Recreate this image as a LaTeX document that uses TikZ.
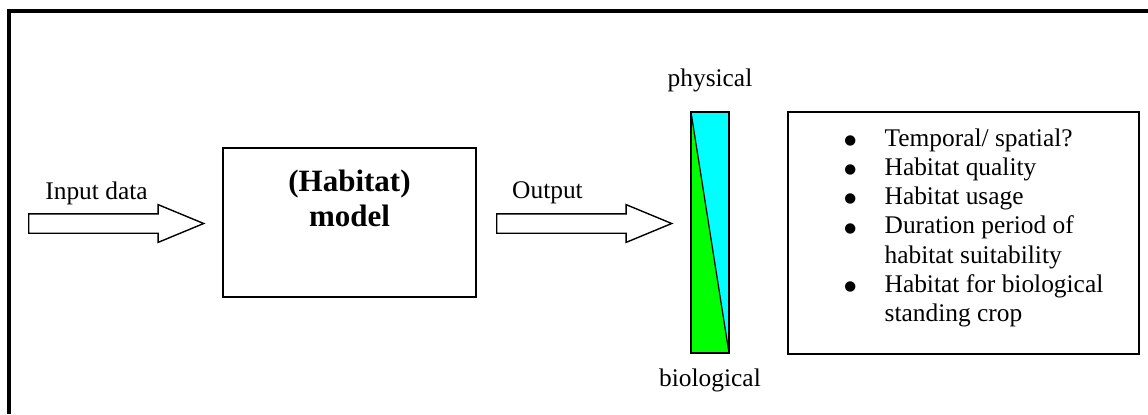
\documentclass[tikz,border=0pt]{standalone}
\usepackage{fontspec}
\setmainfont{Liberation Serif}
\newfontfamily\dotfont{DejaVu Sans}
\usepackage{xcolor}
\usepackage{tikz}
\usetikzlibrary{shapes}
\usetikzlibrary{shapes.arrows}
\usetikzlibrary{positioning}
\definecolor{physfill}{RGB}{0,255,255}
\definecolor{biofill}{RGB}{0,255,0}
\newcommand{\itemdot}{\raisebox{0.9pt}{\dotfont\fontsize{6.8}{6.8}\selectfont ●}}
\tikzset{
  % node options
  box/.style={rectangle,draw,line width=0.7pt,inner sep=0pt},
  modelbox/.style={box,minimum width=126.5pt,minimum height=74.5pt},
  listbox/.style={box,minimum width=175.5pt,minimum height=121pt},
  bar/.style={box,minimum width=19pt,minimum height=120.5pt,fill=physfill,
    path picture={
      \fill[biofill] (path picture bounding box.north west)
        -- (path picture bounding box.south east)
        -- (path picture bounding box.south west) -- cycle;
      \draw[split] (path picture bounding box.north west)
        -- (path picture bounding box.south east);
    }},
  caption/.style={inner sep=0pt,font=\fontsize{12.7}{14.65}\selectfont},
  heading/.style={caption,align=center,font=\bfseries\fontsize{15.5}{17.5}\selectfont},
  flow/.style={single arrow,draw,line width=0.7pt,inner xsep=0pt,inner ysep=4.5pt,
    minimum height=87.5pt,single arrow head extend=4.6pt,single arrow tip angle=45,
    anchor=tail},
  % path options
  border/.style={line width=1.7pt},
  split/.style={line width=0.6pt},
}

\begin{document}
\begin{tikzpicture}[x=0.5pt,y=-0.5pt]
  \useasboundingbox (0,0) rectangle (1148,414);
  % frame, open to the right and at the bottom
  \draw[border] (9,414) -- (9,11) -- (1148,11);

  % input -> model -> output
  \node[flow] (input) at (28,223.5) {};
  \node[caption] (inputlabel) at (96.5,193) {Input data};
  \node[modelbox] (model) at (349.5,222.5) {};
  \node[heading,anchor=north] (modellabel) at (349.5,170) {(Habitat)\\model};
  \node[flow] (output) at (496,223.5) {};
  \node[caption] (outputlabel) at (547.5,193) {Output};

  % physical / biological share of the output
  \node[bar] (bar) at (710,232.5) {};
  \node[caption,above=9.5pt of bar] (physical) {physical};
  \node[caption,below=7.5pt of bar] (biological) {biological};

  % what the output describes
  \node[listbox] (results) at (963.5,233) {};
  \node[caption,anchor=base west] (resultlist) at (844,146) {%
    \begin{tabular}[t]{@{}l@{\hspace{14.2pt}}l@{}}
      \itemdot&Temporal/ spatial?\\
      \itemdot&Habitat quality\\
      \itemdot&Habitat usage\\
      \itemdot&Duration period of\\
              &habitat suitability\\
      \itemdot&Habitat for biological\\
              &standing crop
    \end{tabular}};
\end{tikzpicture}
\end{document}
